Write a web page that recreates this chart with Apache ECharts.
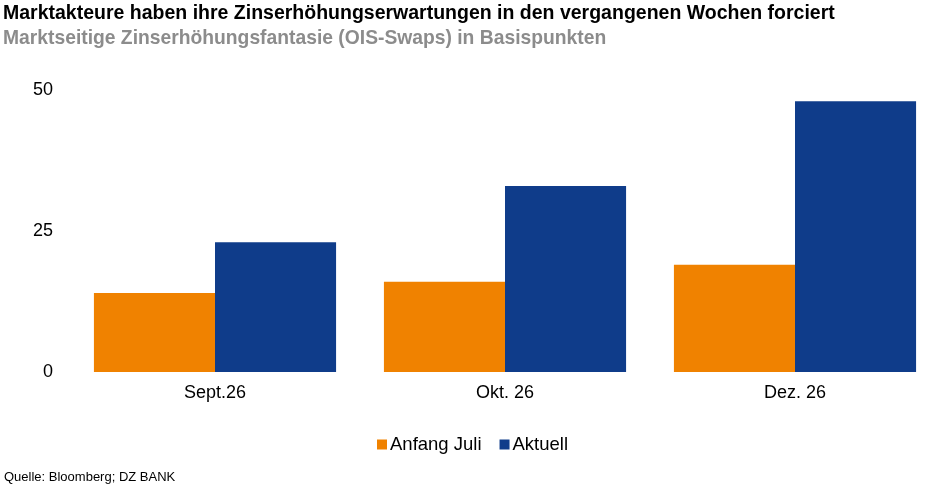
<!DOCTYPE html>
<html><head><meta charset="utf-8">
<script src="https://cdn.jsdelivr.net/npm/echarts@6/dist/echarts.min.js"></script>
<style>html,body{margin:0;padding:0;background:#fff}#c{width:941px;height:493px}</style>
</head><body><div id="c"></div>
<script>
const categories = ['Sept.26', 'Okt. 26', 'Dez. 26'];
const anfangJuli = [14, 16, 19];
const aktuell = [23, 33, 48];
const seriesNames = ['Anfang Juli', 'Aktuell'];
const yTicks = [0, 25, 50];

const F = 'Liberation Sans, Arial, sans-serif';
const chart = echarts.init(document.getElementById('c'));
chart.setOption({
  animation: false,
  title: [
    {text: 'Marktakteure haben ihre Zinserhöhungserwartungen in den vergangenen Wochen forciert', left: 3, top: 4, padding: 0,
     textStyle: {fontFamily: F, fontSize: 19.5, fontWeight: 'bold', color: '#000'}},
    {text: 'Marktseitige Zinserhöhungsfantasie (OIS-Swaps) in Basispunkten', left: 3, top: 29, padding: 0,
     textStyle: {fontFamily: F, fontSize: 19.3, fontWeight: 'bold', color: '#8c8c8c'}},
    {text: 'Quelle: Bloomberg; DZ BANK', left: 4, top: 471, padding: 0,
     textStyle: {fontFamily: F, fontSize: 13, fontWeight: 'normal', color: '#000'}}
  ],
  legend: {
    data: seriesNames, top: 435, left: 377, padding: 0, itemWidth: 10, itemHeight: 10, itemGap: 18,
    icon: 'rect', textStyle: {fontFamily: F, fontSize: 18.5, color: '#000', padding: [0, 0, 0, -2]}
  },
  grid: {left: 70, right: 1, top: 90, bottom: 121, containLabel: false},
  xAxis: {
    type: 'category', data: categories,
    axisLine: {show: false}, axisTick: {show: false},
    axisLabel: {fontFamily: F, fontSize: 18, color: '#000', margin: 12}
  },
  yAxis: {
    type: 'value', min: 0, max: 50, interval: 25,
    splitLine: {show: false}, axisLine: {show: false}, axisTick: {show: false},
    axisLabel: {fontFamily: F, fontSize: 18, color: '#000', margin: 17,
      formatter: v => yTicks.includes(v) ? String(v) : ''}
  },
  series: [
    {name: seriesNames[0], type: 'bar', data: anfangJuli, barGap: '0%', barCategoryGap: '16.5%',
     itemStyle: {color: '#F08200'}},
    {name: seriesNames[1], type: 'bar', data: aktuell, barGap: '0%', barCategoryGap: '16.5%',
     itemStyle: {color: '#0F3C8A'}}
  ]
});
</script></body></html>
